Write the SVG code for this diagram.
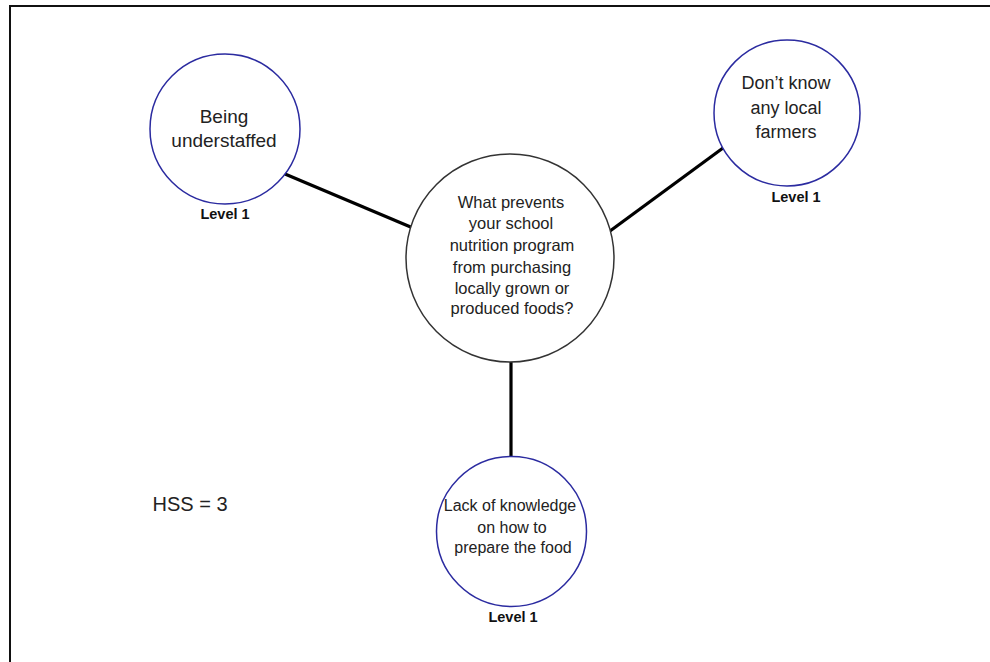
<svg xmlns="http://www.w3.org/2000/svg" width="990" height="662" viewBox="0 0 990 662">
<style>
text{font-family:"Liberation Sans",Arial,sans-serif;fill:#222;text-anchor:middle}
.outer{fill:#fff;stroke:#2b2ba0;stroke-width:1.5}
.center{fill:#fff;stroke:#333;stroke-width:1.5}
.lvl{font-weight:bold;font-size:14.5px;fill:#111}
.conn{stroke:#000;stroke-width:3.2;fill:none}
</style>
<rect width="990" height="662" fill="#fff"/>
<path d="M10 662 V6 H990" fill="none" stroke="#111" stroke-width="2"/>
<g id="connectors">
<line class="conn" x1="285" y1="174" x2="413" y2="228"/>
<line class="conn" x1="610" y1="231" x2="723" y2="148"/>
<line class="conn" x1="511" y1="362" x2="511" y2="457"/>
</g>
<g id="node-center">
<circle class="center" cx="510" cy="258" r="104"/>
<text font-size="16.5"><tspan x="511" y="208">What prevents</tspan><tspan x="511" y="229">your school</tspan><tspan x="512" y="251">nutrition program</tspan><tspan x="512" y="273">from purchasing</tspan><tspan x="512" y="294">locally grown or</tspan><tspan x="512" y="314">produced foods?</tspan></text>
</g>
<g id="node-understaffed">
<circle class="outer" cx="225" cy="129" r="75"/>
<text font-size="19"><tspan x="224" y="123">Being</tspan><tspan x="224" y="147">understaffed</tspan></text>
<text class="lvl" x="225" y="219">Level 1</text>
</g>
<g id="node-farmers">
<circle class="outer" cx="787" cy="113" r="73"/>
<text font-size="18"><tspan x="786" y="89">Don’t know</tspan><tspan x="786" y="114">any local</tspan><tspan x="786" y="138">farmers</tspan></text>
<text class="lvl" x="796" y="202">Level 1</text>
</g>
<g id="node-knowledge">
<circle class="outer" cx="511.5" cy="531.5" r="75"/>
<text font-size="16"><tspan x="510" y="511">Lack of knowledge</tspan><tspan x="512" y="533">on how to</tspan><tspan x="513" y="553">prepare the food</tspan></text>
<text class="lvl" x="513" y="622">Level 1</text>
</g>
<g id="hss">
<text font-size="20" x="190" y="511" fill="#111">HSS = 3</text>
</g>
</svg>
